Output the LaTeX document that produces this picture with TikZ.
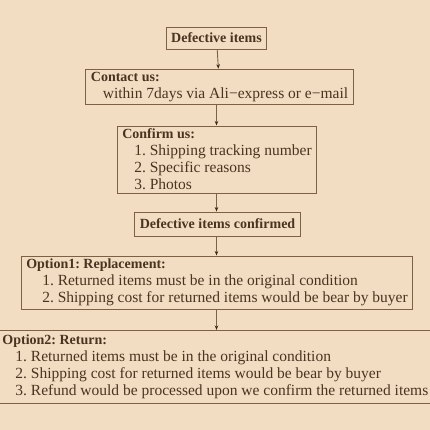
\documentclass[tikz,border=0pt]{standalone}
\usepackage{fontspec}
\setmainfont{Liberation Serif}
\usetikzlibrary{arrows.meta}
\definecolor{bgc}{RGB}{243,221,194}
\definecolor{linec}{RGB}{125,97,68}
\definecolor{textc}{RGB}{72,52,32}
\definecolor{tipc}{RGB}{60,40,22}
\newcommand{\hd}[1]{{\fontsize{14}{17}\selectfont\textbf{#1}}}
\begin{document}
\begin{tikzpicture}[x=1pt,y=-1pt,
  flowbox/.style={draw=linec, line width=0.9pt, inner xsep=5pt, inner ysep=3pt,
    align=left, text=textc, font=\fontsize{15.5}{17}\selectfont\frenchspacing},
  flowarrow/.style={draw=linec, line width=0.9pt,
    -{Stealth[length=4.5pt,width=3.5pt,color=tipc]}}]
\useasboundingbox (0,0) rectangle (430,430);
\fill[bgc] (0,0) rectangle (430,430);
\clip (0,0) rectangle (430,430);
\node[flowbox, minimum height=22pt] (b1) at (216.5,38) {\hd{Defective items}};
\node[flowbox] (b2) at (219.5,87) {\hd{Contact us:}\\\hspace*{12pt}within 7days via Ali−express or e−mail};
\node[flowbox] (b3) at (217,159.5) {\hd{Confirm us:}\\\hspace*{12pt}1. Shipping tracking number\\\hspace*{12pt}2. Specific reasons\\\hspace*{12pt}3. Photos};
\node[flowbox, minimum height=24pt] (b4) at (217.5,224) {\hd{Defective items confirmed}};
\node[flowbox] (b5) at (217,282.5) {\hd{Option1: Replacement:}\\\hspace*{16pt}1. Returned items must be in the original condition\\\hspace*{16pt}2. Shipping cost for returned items would be bear by buyer};
\node[flowbox, anchor=north west, inner ysep=4.5pt] (b6) at (-3,330) {\hd{Option2: Return:}\\\hspace*{13pt}1. Returned items must be in the original condition\\\hspace*{13pt}2. Shipping cost for returned items would be bear by buyer\\\hspace*{13pt}3. Refund would be processed upon we confirm the returned items};
\draw[flowarrow] (b1) -- (b2);
\draw[flowarrow] (b2.south -| b1) -- (b3.north -| b1);
\draw[flowarrow] (b3.south -| b1) -- (b4.north -| b1);
\draw[flowarrow] (b4.south -| b1) -- (b5.north -| b1);
\draw[flowarrow] (b5.south -| b1) -- (b6.north -| b1);
\end{tikzpicture}
\end{document}
